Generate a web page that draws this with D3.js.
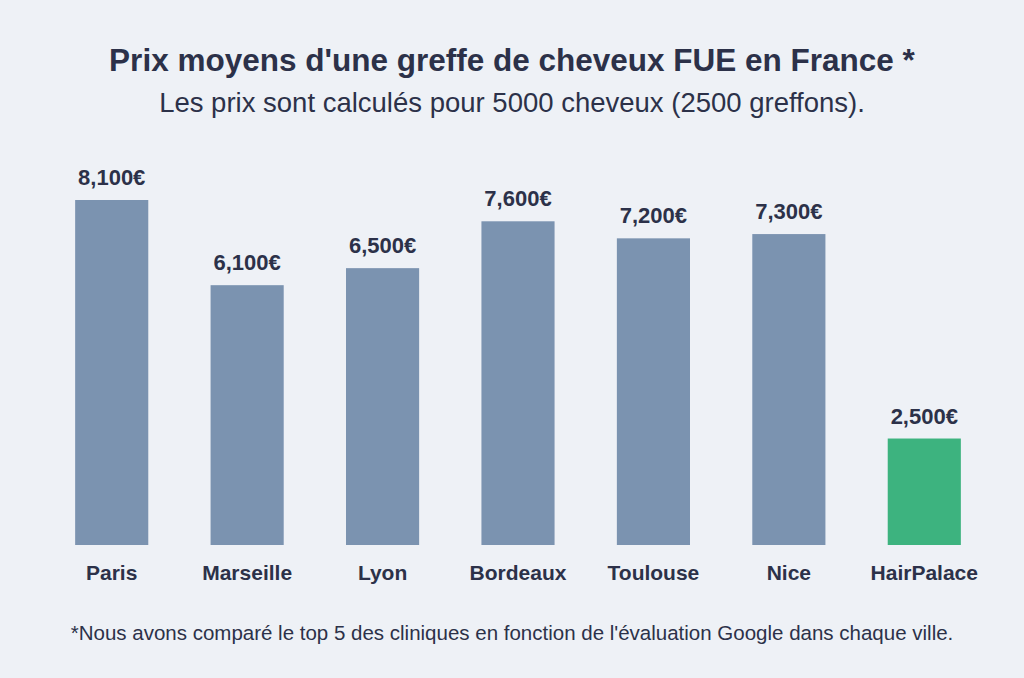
<!DOCTYPE html>
<html><head><meta charset="utf-8">
<script src="https://cdn.jsdelivr.net/npm/d3@7"></script>
<style>body{margin:0;background:#eef1f6}svg{display:block}</style>
</head><body>
<script>
const cities = ['Paris', 'Marseille', 'Lyon', 'Bordeaux', 'Toulouse', 'Nice', 'HairPalace']
const prices = [8100, 6100, 6500, 7600, 7200, 7300, 2500]
const labels = ['8,100€', '6,100€', '6,500€', '7,600€', '7,200€', '7,300€', '2,500€']

const W = 1024, H = 678
const svg = d3.select('body').append('svg').attr('width', W).attr('height', H)
  .style('font-family', 'Liberation Sans, Arial, sans-serif')
svg.append('rect').attr('width', W).attr('height', H).attr('fill', '#eef1f6')

const x = d3.scaleBand().domain(cities).range([44, 992]).paddingInner(0.46).paddingOuter(0.23)
const y = d3.scaleLinear().domain([0, 8100]).range([545, 200])
const ink = '#2c3149'

svg.append('text').attr('x', W / 2).attr('y', 71).attr('text-anchor', 'middle')
  .attr('font-size', 31.5).attr('font-weight', 'bold').attr('fill', ink)
  .text("Prix moyens d'une greffe de cheveux FUE en France *")
svg.append('text').attr('x', W / 2).attr('y', 112).attr('text-anchor', 'middle')
  .attr('font-size', 27.5).attr('fill', ink)
  .text('Les prix sont calculés pour 5000 cheveux (2500 greffons).')

svg.selectAll('rect.bar').data(prices).join('rect').attr('class', 'bar')
  .attr('x', (d, i) => x(cities[i])).attr('width', x.bandwidth())
  .attr('y', d => y(d)).attr('height', d => y(0) - y(d))
  .attr('fill', (d, i) => cities[i] === 'HairPalace' ? '#3db37f' : '#7b93b0')

svg.selectAll('text.val').data(prices).join('text').attr('class', 'val')
  .attr('x', (d, i) => x(cities[i]) + x.bandwidth() / 2).attr('y', d => y(d) - 15)
  .attr('text-anchor', 'middle').attr('font-size', 22).attr('font-weight', 'bold').attr('fill', ink)
  .text((d, i) => labels[i])

svg.selectAll('text.cat').data(cities).join('text').attr('class', 'cat')
  .attr('x', d => x(d) + x.bandwidth() / 2).attr('y', 580)
  .attr('text-anchor', 'middle').attr('font-size', 21).attr('font-weight', 'bold').attr('fill', ink)
  .text(d => d)

svg.append('text').attr('x', W / 2).attr('y', 640).attr('text-anchor', 'middle')
  .attr('font-size', 20.5).attr('fill', ink)
  .text("*Nous avons comparé le top 5 des cliniques en fonction de l'évaluation Google dans chaque ville.")
</script>
</body></html>
